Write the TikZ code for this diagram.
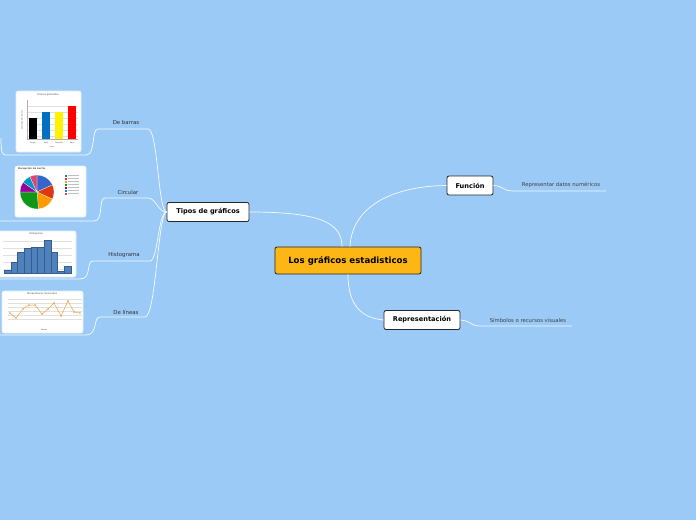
\documentclass[tikz,border=0pt]{standalone}
\usepackage{fontspec}
\setmainfont{DejaVu Sans}
\usetikzlibrary{positioning}
\definecolor{bgblue}{RGB}{155,202,246}
\definecolor{mainfill}{RGB}{253,183,20}
\definecolor{gblue}{RGB}{51,102,204}
\definecolor{gred}{RGB}{220,57,18}
\definecolor{gorange}{RGB}{255,153,0}
\definecolor{ggreen}{RGB}{16,150,24}
\definecolor{gpurple}{RGB}{153,0,153}
\definecolor{gcyan}{RGB}{0,153,198}
\definecolor{gpink}{RGB}{221,68,119}
\definecolor{histblue}{RGB}{79,129,189}
\definecolor{histedge}{RGB}{56,93,138}
\definecolor{lineorange}{RGB}{247,160,60}
\definecolor{barblue}{RGB}{0,112,192}
\begin{document}
\begin{tikzpicture}[x=1pt,y=-1pt,
        topic/.style={draw=black!85, fill=white, rounded corners=2pt, line width=0.8pt,
          font=\bfseries\fontsize{6.6}{7}\selectfont, inner sep=0pt, minimum height=19pt},
        maintopic/.style={topic, fill=mainfill, font=\bfseries\fontsize{8.6}{9}\selectfont,
          minimum width=146pt, minimum height=27pt},
        sublabel/.style={font=\fontsize{5.4}{6}\selectfont, text=black!80},
        leaf/.style={font=\fontsize{5.3}{6}\selectfont, text=black!75},
        link/.style={draw=white!90!bgblue, line width=0.7pt},
        chartbox/.style={fill=white, draw=white!70!bgblue, line width=0.6pt, rounded corners=2pt},
        tiny/.style={font=\fontsize{2.4}{3}\selectfont, text=black!70, inner sep=0pt}
      ]
        \fill[bgblue] (0,0) rectangle (696,520);
        \useasboundingbox (0,0) rectangle (696,520);

        % Main topics
        \node[maintopic] (main) at (348,260.5) {Los gráficos estadisticos};
        \node[topic, minimum width=82pt] (tipos) at (208,212) {Tipos de gráficos};
        \node[topic, minimum width=46pt] (funcion) at (470,185.5) {Función};
        \node[topic, minimum width=76pt] (repr) at (422,320) {Representación};

        % Branch labels
        \node[sublabel] (barras) at (126,122) {De barras};
        \node[sublabel] (circular) at (128,192) {Circular};
        \node[sublabel] (histo) at (124,255) {Histograma};
        \node[sublabel] (lineas) at (126,312) {De líneas};
        \node[leaf] (datos) at (561,185) {Representar datos numéricos};
        \node[leaf] (simbolos) at (528,320) {Símbolos o recursos visuales};

        % Underline end points
        \coordinate (barR) at (148,129); \coordinate (barL) at (98,129);
        \coordinate (cirR) at (148,198); \coordinate (cirL) at (105,198);
        \coordinate (hisR) at (150,261); \coordinate (hisL) at (93,261);
        \coordinate (linR) at (145,317); \coordinate (linL) at (100,317);
        \coordinate (datL) at (514,191); \coordinate (datR) at (606,191);
        \coordinate (simL) at (480,326); \coordinate (simR) at (572,326);

        % Connectors: central topic
        \draw[link] (main.north) ++(-6,0) .. controls (342,222) and (318,212) .. (tipos.east);
        \draw[link] (main.north) ++(2,0) .. controls (352,205) and (395,186) .. (funcion.west);
        \draw[link] (main.south) .. controls (348,306) and (362,318) .. (repr.west);
        % Connectors: leaves on the right
        \draw[link] (funcion.east) .. controls (504,186) and (502,191) .. (datL) -- (datR);
        \draw[link] (repr.east) .. controls (472,321) and (470,326) .. (simL) -- (simR);
        % Connectors: chart types
        \draw[link] (tipos.west) .. controls (158,212) and (158,129) .. (barR) -- (barL)
          .. controls (91,129) and (96,155) .. (86,155) -- (6,155)
          .. controls (2,155) and (1,152) .. (1,138);
        \draw[link] (tipos.west) .. controls (158,212) and (156,198) .. (cirR) -- (cirL)
          .. controls (98,198) and (104,221) .. (94,221) -- (0,221);
        \draw[link] (tipos.west) .. controls (158,212) and (158,261) .. (hisR) -- (hisL)
          .. controls (86,261) and (92,279) .. (80,279) -- (0,279);
        \draw[link] (tipos.west) .. controls (158,212) and (156,317) .. (linR) -- (linL)
          .. controls (93,317) and (98,335) .. (86,335) -- (0,335);

        % Chart: bars
        \draw[chartbox] (16,91) rectangle (81,152);
        \node[tiny] (bartitle) at (48,95) {Colores preferidos};
        \foreach \y in {106,112,118,124,130,136} \draw[black!12, line width=0.2pt] (27,\y) -- (78,\y);
        \draw[black!30, line width=0.25pt] (27,100) -- (27,139) -- (78,139);
        \foreach \xa/\t/\c/\n in {29/118/black/Negro, 42/112/barblue/Azul, 55/112/yellow/Amarillo, 68/106/red/Rojo} {
          \fill[\c] (\xa,139) rectangle (\xa+8,\t);
          \node[tiny, font=\fontsize{1.8}{2}\selectfont] at (\xa+4,143) {\n};
        }
        \node[tiny, font=\fontsize{1.8}{2}\selectfont] (barx) at (52,147) {Color};
        \node[tiny, font=\fontsize{1.8}{2}\selectfont, rotate=90] (bary) at (22,120) {Cantidad de alumnos};

        % Chart: pie
        \draw[chartbox] (15,166) rectangle (86,217);
        \node[tiny, anchor=west, font=\bfseries\fontsize{2.4}{3}\selectfont] (pietitle) at (18,169) {Recepción de Lectio};
        \begin{scope}[shift={(37,192)}]
          \foreach \a/\b/\c in {0/65/gblue, 65/115/gred, 115/175/gorange, 175/270/ggreen,
                                270/305/gpurple, 305/335/gcyan, 335/360/gpink}
            \fill[\c, draw=white, line width=0.2pt] (0,0) -- (-90+\a:17) arc[start angle=-90+\a, end angle=-90+\b, radius=17] -- cycle;
        \end{scope}
        \foreach \c [count=\i] in {gblue, gred, gorange, ggreen, gpurple, gcyan, gpink} {
          \fill[\c] (65,171.5+3*\i) rectangle (67,173.5+3*\i);
          \draw[black!25, line width=0.5pt] (68,172.5+3*\i) -- (79,172.5+3*\i);
        }

        % Chart: histogram
        \draw[chartbox] (-3,231) rectangle (76,277);
        \node[tiny] (histitle) at (36,233.5) {Histograma};
        \foreach \y in {241,248,255,262,269} \draw[black!12, line width=0.2pt] (3,\y) -- (72,\y);
        \foreach \xa/\xb/\t in {4/11/270, 11/17/262, 17/24/252, 24/31/248, 31/37/247,
                                37/44/247, 44/51/240, 51/57/252, 57/64/271, 64/71/266}
          \draw[histedge, fill=histblue, line width=0.3pt] (\xa,273) rectangle (\xb,\t);

        % Chart: lines
        \draw[chartbox] (2,291) rectangle (83,333);
        \node[tiny] (lintitle) at (42,294) {Temperaturas mensuales};
        \foreach \y in {299,303,307,311,315,319} \draw[black!12, line width=0.2pt] (8,\y) -- (82,\y);
        \draw[lineorange, line width=0.5pt] plot coordinates {(10,313) (16,318) (23,309) (29,305)
          (35,305) (42,314) (48,309) (54,303) (61,316) (68,301) (74,312) (80,313)};
        \foreach \p in {(10,313),(16,318),(23,309),(29,305),(35,305),(42,314),
                        (48,309),(54,303),(61,316),(68,301),(74,312),(80,313)}
          \fill[lineorange] \p circle (0.8);
        \node[tiny, font=\fontsize{1.8}{2}\selectfont] (linx) at (44,330) {Meses};
      \end{tikzpicture}
\end{document}
